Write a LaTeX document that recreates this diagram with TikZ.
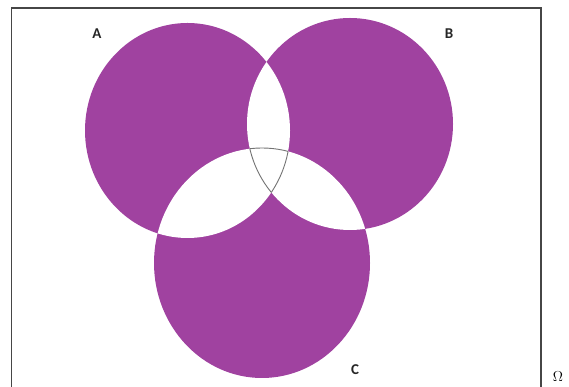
\documentclass[tikz,border=0pt]{standalone}
\usepackage{fontspec}
\newfontfamily\labelfont{Carlito}
\usepackage{tikz}
\definecolor{VennPurple}{RGB}{160,66,160}
\definecolor{FrameGrey}{RGB}{70,70,70}
\newcommand{\vennA}{(187.5,256.5) ellipse [x radius=102.5, y radius=107.5]}
\newcommand{\vennB}{(350,263) ellipse [x radius=103, y radius=106]}
\newcommand{\vennC}{(262,124) ellipse [x radius=108, y radius=115]}
\tikzset{
  setlabel/.style={font=\labelfont\fontsize{15}{17}\selectfont\bfseries, text=black!85},
  rim/.style={draw=gray!90!black, line width=0.9pt}
}

\begin{document}
\begin{tikzpicture}[x=1pt,y=1pt]
        \useasboundingbox (0,0) rectangle (569,387);
        % universe
        \draw[FrameGrey, line width=1.6pt] (11.5,-6) rectangle (541,379);
        % the three sets
        \fill[VennPurple] \vennA;
        \fill[VennPurple] \vennB;
        \fill[VennPurple] \vennC;
        % pairwise overlaps left white
        \begin{scope} \clip \vennA; \fill[white] \vennB; \end{scope}
        \begin{scope} \clip \vennA; \fill[white] \vennC; \end{scope}
        \begin{scope} \clip \vennB; \fill[white] \vennC; \end{scope}
        % outline of A and B and C
        \begin{scope} \clip \vennA; \clip \vennB; \draw[rim] \vennC; \end{scope}
        \begin{scope} \clip \vennA; \clip \vennC; \draw[rim] \vennB; \end{scope}
        \begin{scope} \clip \vennB; \clip \vennC; \draw[rim] \vennA; \end{scope}
        % labels
        \node[setlabel] (labA) at (97,353) {A};
        \node[setlabel] (labB) at (449,353) {B};
        \node[setlabel] (labC) at (355,17) {C};
        \node[font=\fontsize{14}{16}\selectfont] (omega) at (558,10) {$\Omega$};
      \end{tikzpicture}
\end{document}
